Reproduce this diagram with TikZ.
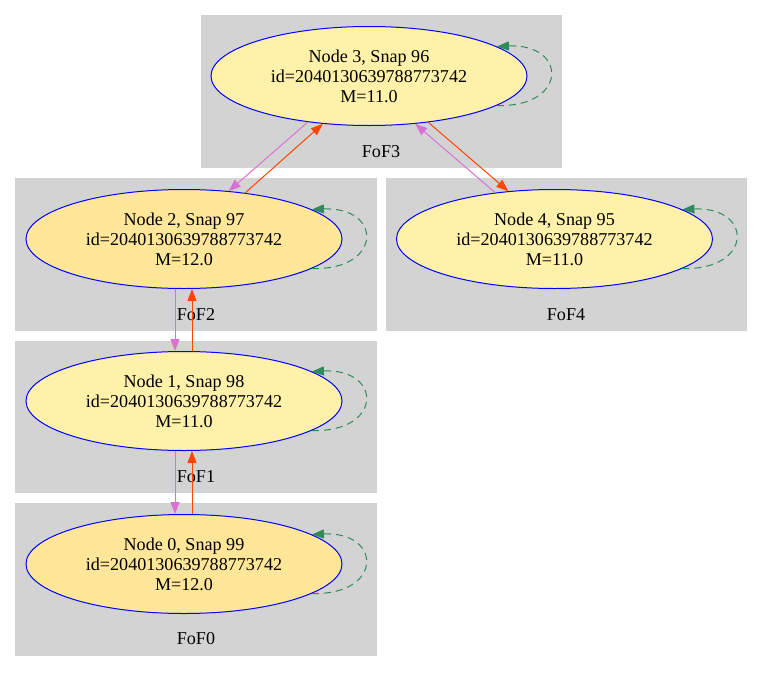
\documentclass[tikz,border=0pt]{standalone}
\usepackage{fontspec}
\setmainfont{Liberation Serif}
\usetikzlibrary{shapes.geometric,arrows.meta}
\definecolor{clgray}{HTML}{D3D3D3}
\definecolor{fillA}{HTML}{FFF0AA}
\definecolor{fillB}{HTML}{FFE699}
\definecolor{orchidc}{HTML}{DA70D6}
\definecolor{orangec}{HTML}{FF4500}
\definecolor{greenc}{HTML}{2E8B57}
\tikzset{
  cluster/.style={fill=clgray, draw=none},
  clabel/.style={font=\fontsize{18.1}{20}\selectfont, inner sep=0pt, anchor=center},
  fofnode/.style={ellipse, draw=blue, line width=1pt, minimum width=316pt, minimum height=99pt,
     inner sep=0pt, align=center, font=\fontsize{18.1}{20}\selectfont},
  violetedge/.style={-{Triangle[length=12pt,width=9pt,fill=orchidc]}, draw=orchidc, line width=1pt},
  orangeedge/.style={-{Triangle[length=12pt,width=9pt,fill=orangec]}, draw=orangec, line width=1pt},
  selfedge/.style={-{Triangle[length=12pt,width=9pt,fill=greenc]}, draw=greenc, line width=1pt, dash pattern=on 7pt off 5pt},
}
\begin{document}
\begin{tikzpicture}[x=1pt,y=-1pt]
\useasboundingbox (0,0) rectangle (763,672);
% clusters
\fill[cluster] (201,15) rectangle (561.7,167.7);
\fill[cluster] (15,177.5) rectangle (376.5,330.7);
\fill[cluster] (386,178) rectangle (746.7,330.7);
\fill[cluster] (15,340.5) rectangle (376.5,493.3);
\fill[cluster] (15,503) rectangle (376.5,656);
\node[clabel] (l3) at (381,152) {FoF3};
\node[clabel] (l2) at (196,315) {FoF2};
\node[clabel] (l4) at (566,315) {FoF4};
\node[clabel] (l1) at (196,477) {FoF1};
\node[clabel] (l0) at (196,639) {FoF0};
% nodes
\node[fofnode, fill=fillA] (n3) at (369,76) {Node 3, Snap 96\\id=2040130639788773742\\M=11.0};
\node[fofnode, fill=fillB] (n2) at (184,239) {Node 2, Snap 97\\id=2040130639788773742\\M=12.0};
\node[fofnode, fill=fillA] (n4) at (554.5,239) {Node 4, Snap 95\\id=2040130639788773742\\M=11.0};
\node[fofnode, fill=fillA] (n1) at (184,401) {Node 1, Snap 98\\id=2040130639788773742\\M=11.0};
\node[fofnode, fill=fillB] (n0) at (184,564) {Node 0, Snap 99\\id=2040130639788773742\\M=12.0};
% edges between nodes
\draw[violetedge] (n3.217) -- (n2.47);
\draw[orangeedge] (n2.37) -- (n3.226);
\draw[orangeedge] (n3.322) -- (n4.134);
\draw[violetedge] (n4.142) -- (n3.314);
\draw[violetedge] ([xshift=-9pt]n2.south) -- ([xshift=-9pt]n1.north);
\draw[orangeedge] ([xshift=8pt]n1.north) -- ([xshift=8pt]n2.south);
\draw[violetedge] ([xshift=-9pt]n1.south) -- ([xshift=-9pt]n0.north);
\draw[orangeedge] ([xshift=8pt]n0.north) -- ([xshift=8pt]n1.south);
% self loops
\foreach \n in {n0,n1,n2,n3,n4}{
  \draw[selfedge] (\n.347) .. controls +(71,2) and +(71,-3) .. (\n.13);
}
\end{tikzpicture}
\end{document}
